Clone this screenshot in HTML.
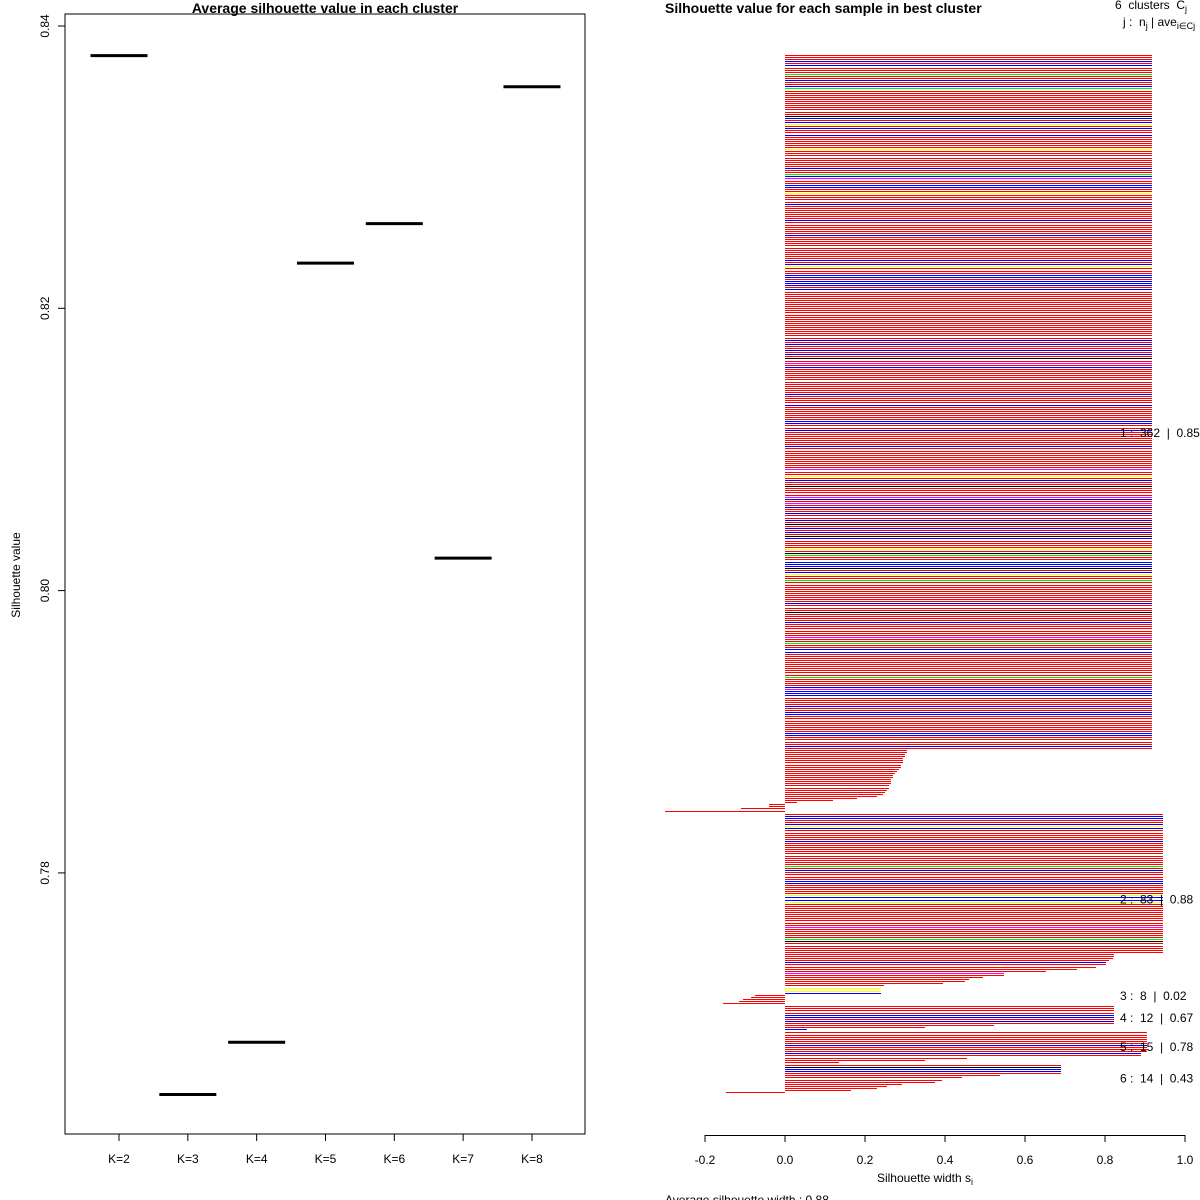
<!DOCTYPE html>
<html><head><meta charset="utf-8"><style>
body{margin:0;background:#fff;}
svg{display:block;font-family:"Liberation Sans",sans-serif;}
.pre{white-space:pre;}
</style></head><body>
<svg id="svg" width="1200" height="1200" viewBox="0 0 1200 1200" xmlns="http://www.w3.org/2000/svg">
<g id="left">
<text x="325" y="13" font-size="14" font-weight="bold" text-anchor="middle">Average silhouette value in each cluster</text>
<rect x="65" y="14" width="520" height="1120" fill="none" stroke="#000" stroke-width="1"/>
<text transform="translate(20,575) rotate(-90)" font-size="12" text-anchor="middle">Silhouette value</text>
</g>
<g id="right">
<text x="665" y="13" font-size="14" font-weight="bold">Silhouette value for each sample in best cluster</text>
<text x="1115" y="9" font-size="12" class="pre">6  clusters  C<tspan font-size="9" dy="3">j</tspan></text>
<text x="1123" y="26" font-size="12" class="pre">j :  n<tspan font-size="9" dy="3">j</tspan><tspan dy="-3"> | ave</tspan><tspan font-size="9" dy="3">i∈Cj</tspan><tspan dy="-3">  s</tspan></text>
<line x1="705" y1="1135.5" x2="1185" y2="1135.5" stroke="#000"/>
<text x="925" y="1182" font-size="12" text-anchor="middle">Silhouette width s<tspan font-size="9" dy="3">i</tspan></text>
<text x="665" y="1204" font-size="12">Average silhouette width :  0.88</text>
</g>
</svg>
<script>
// Left chart data
const kLabels = ["K=2","K=3","K=4","K=5","K=6","K=7","K=8"];
const avgSil = [0.8379,0.7643,0.7680,0.8232,0.8260,0.8023,0.8357];
const yTicks = [0.78,0.80,0.82,0.84];
const yTickLabels = ["0.78","0.80","0.82","0.84"];

// Right chart data (run-length: values with counts per cluster)
const clusterIds = [1,2,3,4,5,6];
const clusterSizes = [362,83,8,12,15,14];
const clusterAvg = ["0.85","0.88","0.02","0.67","0.78","0.43"];
const c1Vals = [0.917,0.305,0.30,0.295,0.29,0.285,0.28,0.275,0.27,0.265,0.26,0.255,0.25,0.245,0.23,0.18,0.12,0.03,-0.04,-0.11,-0.30];
const c1Counts = [332,2,2,3,2,1,1,1,2,3,2,1,1,1,1,1,1,1,2,1,1];
const c2Vals = [0.945,0.822,0.819,0.810,0.803,0.802,0.778,0.730,0.652,0.547,0.496,0.460,0.451,0.394,0.248];
const c2Counts = [67,2,1,1,1,1,1,1,1,2,1,1,1,1,1];
const c3Vals = [0.24,-0.076,-0.085,-0.105,-0.116,-0.155];
const c3Counts = [3,1,1,1,1,1];
const c4Vals = [0.822,0.523,0.350,0.054];
const c4Counts = [9,1,1,1];
const c5Vals = [0.906,0.889,0.455,0.350,0.135];
const c5Counts = [10,2,1,1,1];
const c6Vals = [0.690,0.538,0.443,0.393,0.375,0.292,0.254,0.230,0.166,-0.147];
const c6Counts = [5,1,1,1,1,1,1,1,1,1];
const xTicks = [-0.2,0,0.2,0.4,0.6,0.8,1.0];
const xTickLabels = ["-0.2","0.0","0.2","0.4","0.6","0.8","1.0"];
const colorCodes = [
 "rrrbrbrrrgrrbrrbgrrrrrrrrrrrrkbrbyrbrrbrrrrrryrrrrrrrrbrrgbmrrbbrryrrrrbrrrrrrrbrrrrrrbrrrrrrrrrrrbrbyrrrbbrbbbrbrrrrrrrrrrrrrrrrrrrrrrrbrbrrbrbrkrmrbrrrrrrrrrrrrbrrrrbrrrrrrrbbrrbrrrrrrrbrrrrrrrrrrmrryrbrrkrrrrmbrmrbrrbrrbrkrbrbrkbrrrryrkgrrbbbkrbyrrgrrrrrrrrrrbrrrkrrrrbrrrrrrmrrgrrbbrrrrrrrrrrrgrrrrbmbbbrrrrbrrbbrrrrrrrrbbrrrrbr",
 "rbbrrbybrrrrrbrrrrrrrrrrrgrbrrrrbbrrrrrybbyrrrrrrrrrrrmrrrrrgkrrrrrrrrrbrrrrmrrr",
 "yybrrrrr",
 "rrrrbbrbrrrb",
 "rrrrrrbrrrbrrrr",
 "rkbbrrrrrrrrrr"
];
const colorMap = {r:"#ff0000",b:"#0000ff",g:"#00ee00",y:"#ffff00",m:"#ff00ff",k:"#000000"};

const NS = "http://www.w3.org/2000/svg";
const left = document.getElementById("left");
const right = document.getElementById("right");
function mk(tag, attrs, parent){ const e=document.createElementNS(NS,tag); for(const k in attrs) e.setAttribute(k,attrs[k]); parent.appendChild(e); return e; }

// Left axes
const yScale = v => 26 + (0.84 - v) / 0.02 * 282.3;
const xScaleK = i => 119 + i * 68.83;
yTicks.forEach((t,i)=>{
  const y = yScale(t);
  const tk = mk("line",{x1:58,y1:y,x2:65,y2:y,stroke:"#000"},left);
  
  
  const tx = mk("text",{transform:`translate(49,${y}) rotate(-90)`,"font-size":12,"text-anchor":"middle"},left);
  tx.textContent = yTickLabels[i];
  
  
});
kLabels.forEach((lab,i)=>{
  const x = xScaleK(i);
  const tk = mk("line",{x1:x,y1:1134,x2:x,y2:1141,stroke:"#000"},left);
  
  
  const tx = mk("text",{x:x,y:1163,"font-size":12,"text-anchor":"middle"},left);
  tx.textContent = lab;
  
  
  const y = yScale(avgSil[i]);
  const seg = mk("line",{x1:x-28.5,y1:y,x2:x+28.5,y2:y,stroke:"#000","stroke-width":3},left);
  
  
});

// Right chart
const xs = v => 785 + v * 400;
const unit = 2.093, gapUnits = 0.5, top0 = 55;
xTicks.forEach((t,i)=>{
  const x = xs(t);
  const tk = mk("line",{x1:x,y1:1135,x2:x,y2:1142,stroke:"#000"},right);
  
  
  const tx = mk("text",{x:x,y:1164,"font-size":12,"text-anchor":"middle"},right);
  tx.textContent = xTickLabels[i];
  
  
});
const allVals = [c1Vals,c2Vals,c3Vals,c4Vals,c5Vals,c6Vals];
const allCounts = [c1Counts,c2Counts,c3Counts,c4Counts,c5Counts,c6Counts];
let idx = 0;
allVals.forEach((vals,c)=>{
  const g = mk("g",{"shape-rendering":"crispEdges"},right);
  
  
  const startIdx = idx;
  let local = 0;
  vals.forEach((v,j)=>{
    for(let n=0;n<allCounts[c][j];n++){
      const y = Math.round(top0 + (idx + c*gapUnits) * unit);
      const code = colorCodes[c][local] || "r";
      const x0 = Math.min(xs(0), xs(v)), w = Math.abs(xs(v)-xs(0));
      const r = mk("rect",{x:Math.round(x0),y:y,width:Math.round(w),height:1,fill:colorMap[code]},g);
      
      
      idx++; local++;
    }
  });
  const midY = top0 + ((startIdx + idx - 1)/2 + c*gapUnits) * unit;
  const lab = mk("text",{x:1120,y:midY+4,"font-size":12,"class":"pre"},right);
  lab.textContent = clusterIds[c] + " :  " + clusterSizes[c] + "  |  " + clusterAvg[c];
  
  
});
</script>
</body></html>
